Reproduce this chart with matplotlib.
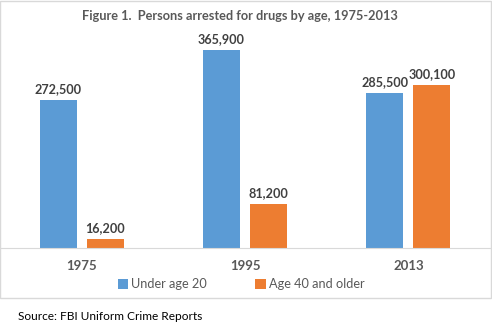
import matplotlib.pyplot as plt
import numpy as np
from matplotlib.patches import Rectangle

years = ['1975', '1995', '2013']
under_20 = [272500, 365900, 285500]
age_40_plus = [16200, 81200, 300100]

blue = '#5B9BD5'
orange = '#ED7D31'
txt = '#595959'

plt.rcParams['font.family'] = ['Lato', 'DejaVu Sans']

fig = plt.figure(figsize=(4.92, 3.30), dpi=100)
ax = fig.add_axes([0.0, 0.2485, 0.996, 0.6575])

x = np.arange(len(years))
w = 0.226
off = 0.144
b1 = ax.bar(x - off, under_20, w, color=blue, label='Under age 20')
b2 = ax.bar(x + off, age_40_plus, w, color=orange, label='Age 40 and older')

for bars, vals in ((b1, under_20), (b2, age_40_plus)):
    for b, v in zip(bars, vals):
        ax.text(b.get_x() + b.get_width() / 2, v + 9000, f'{v:,}',
                ha='center', va='bottom', fontsize=9.1, fontweight='bold',
                color='#404040')

ax.set_xlim(-0.5, 2.5)
ax.set_ylim(0, 400000)
ax.set_xticks(x)
ax.set_xticklabels(years, fontsize=9.5, fontweight='bold', color=txt)
ax.tick_params(axis='x', length=0, pad=9)
ax.set_yticks([])
for s in ['top', 'right', 'left']:
    ax.spines[s].set_visible(False)
ax.spines['bottom'].set_color('#D9D9D9')

leg = fig.legend(loc='center', bbox_to_anchor=(0.49, 0.139), ncol=2,
                 frameon=False, fontsize=9.2, handlelength=0.8,
                 handleheight=0.8, columnspacing=3.8, handletextpad=0.25)
for t in leg.get_texts():
    t.set_color(txt)

fig.text(0.488, 0.951, 'Figure 1.  Persons arrested for drugs by age, 1975-2013',
         ha='center', va='center', fontsize=9.2, fontweight='bold', color=txt)
fig.text(0.037, 0.042, 'Source: FBI Uniform Crime Reports', ha='left',
         va='center', fontsize=8.6, color='black')

fig.patches.append(Rectangle((0.001, 0.097), 0.996, 0.9, transform=fig.transFigure,
                             fill=False, edgecolor='#D9D9D9', linewidth=1))

fig.savefig('out.png', dpi=100)
